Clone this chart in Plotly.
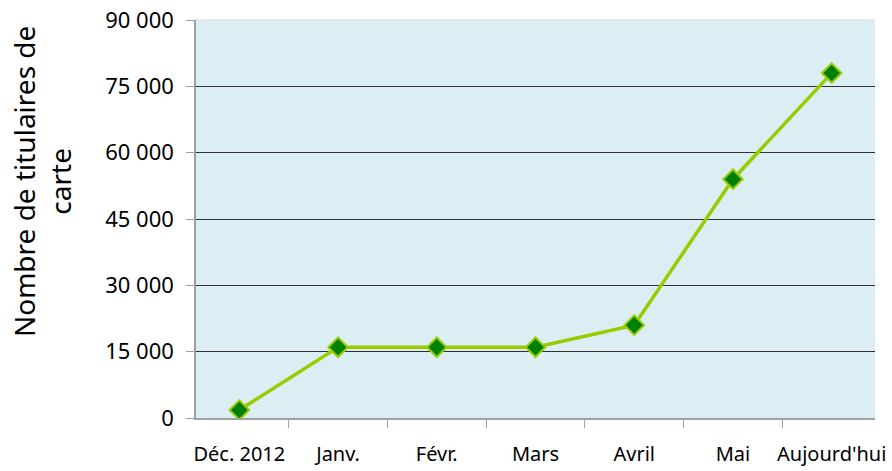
import plotly.graph_objects as go

# data
months = ["Déc. 2012", "Janv.", "Févr.", "Mars", "Avril", "Mai", "Aujourd'hui"]
holders = [1800, 16000, 16000, 16000, 21000, 54000, 78000]
ytick_vals = [0, 15000, 30000, 45000, 60000, 75000, 90000]

trace = go.Scatter(x=months, y=holders,
                   mode="lines+markers",
                   line=dict(color="#99CC00", width=3.5),
                   marker=dict(symbol="diamond", size=15, color="#008000",
                               line=dict(color="#99CC00", width=2)),
                   showlegend=False)

layout = dict(width=892, height=471,
              margin=dict(l=196, r=17, t=20, b=53, autoexpand=False),
              paper_bgcolor="white",
              plot_bgcolor="#DAEEF3",
              separators=", ",
              font=dict(family="Noto Sans", size=22, color="#000000"),
              xaxis=dict(type="category",
                         automargin=False,
                         tickangle=0,
                         showgrid=False,
                         showline=True, linecolor="#A0A0A0", linewidth=1.5,
                         ticks="outside", ticklen=8, tickcolor="#A0A0A0",
                         tickson="boundaries",
                         ticklabelstandoff=17,
                         ticklabeloverflow="allow",
                         tickfont=dict(size=20)),
              yaxis=dict(range=[0, 90000],
                         automargin=False,
                         tickvals=ytick_vals,
                         tickformat=",d",
                         showgrid=True, gridcolor="#303030", gridwidth=1,
                         zeroline=False,
                         showline=True, linecolor="#A0A0A0", linewidth=1.5,
                         ticks="outside", ticklen=8, tickcolor="#A0A0A0",
                         ticklabelstandoff=8,
                         ticklabeloverflow="allow",
                         tickfont=dict(size=22)),
              annotations=[dict(text="Nombre de titulaires de<br>carte",
                                textangle=-90, showarrow=False,
                                xref="paper", yref="paper",
                                x=-0.227, y=0.595,
                                xanchor="center", yanchor="middle",
                                font=dict(size=28))],
              shapes=[dict(type="line", xref="paper", yref="paper",
                           x0=0, x1=1, y0=1, y1=1,
                           line=dict(color="#E6E6E6", width=2))])

fig = go.Figure(data=[trace], layout=layout)
# drop the default 8px page margin so the figure fills the window
fig.write_html("out.html", config={"displayModeBar": False},
               post_script="document.body.style.margin='0';")
